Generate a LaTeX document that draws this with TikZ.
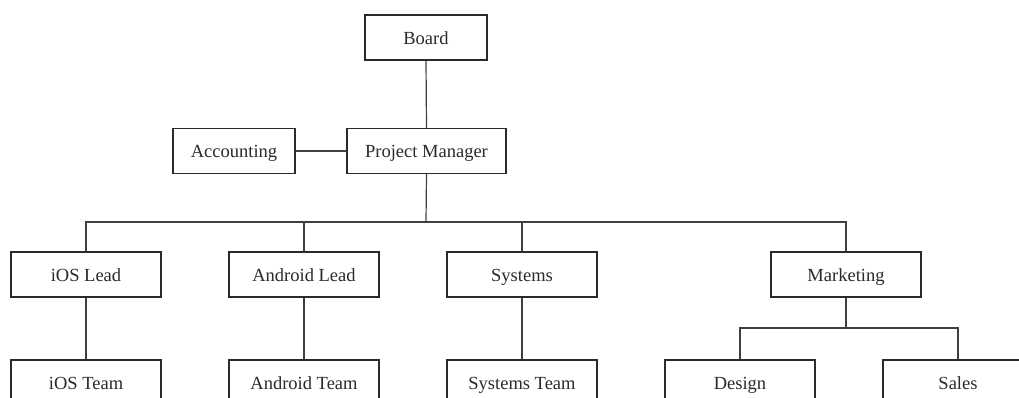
\documentclass[tikz,border=0pt]{standalone}
\usepackage{fontspec}
\setmainfont{Liberation Serif}
\definecolor{ink}{HTML}{2A2A2A}
\definecolor{wire}{HTML}{404040}
\begin{document}
\begin{tikzpicture}[x=1pt,y=-1pt,
  box/.style={draw=ink,line width=1.2pt,fill=white,inner sep=0pt,
    minimum height=45pt,text height=16pt,text depth=2pt,
    font=\fontsize{18.5}{20}\selectfont,text=ink},
  wbox/.style={box,minimum width=150pt},
  link/.style={draw=wire,line width=1.2pt}]
\useasboundingbox (0,0) rectangle (1019,398);
\clip (0,0) rectangle (1019,398);
% top of the chart
\node[box,minimum width=122pt] (board) at (426,37.5) {Board};
\node[box,minimum width=159pt] (pm) at (426.5,151) {Project Manager};
\node[box,minimum width=122pt] (acc) at (234,151) {Accounting};
% leads
\node[wbox] (iosL) at (86,274.5) {iOS Lead};
\node[wbox] (andL) at (304,274.5) {Android Lead};
\node[wbox] (sys) at (522,274.5) {Systems};
\node[wbox] (mkt) at (846,274.5) {Marketing};
% teams
\node[wbox] (iosT) at (86,382.5) {iOS Team};
\node[wbox] (andT) at (304,382.5) {Android Team};
\node[wbox] (sysT) at (522,382.5) {Systems Team};
\node[wbox] (des) at (740,382.5) {Design};
\node[wbox] (sal) at (958,382.5) {Sales};
% junction points
\coordinate (bus) at (426,222);
\coordinate (mbus) at (846,328);
% connectors
\draw[link] (board.south) -- (pm.north);
\draw[link] (acc.east) -- (pm.west);
\draw[link] (pm.south) -- (bus);
\draw[link] (bus) -| (iosL.north);
\draw[link] (bus) -| (andL.north);
\draw[link] (bus) -| (sys.north);
\draw[link] (bus) -| (mkt.north);
\draw[link] (iosL.south) -- (iosT.north);
\draw[link] (andL.south) -- (andT.north);
\draw[link] (sys.south) -- (sysT.north);
\draw[link] (mkt.south) -- (mbus);
\draw[link] (mbus) -| (des.north);
\draw[link] (mbus) -| (sal.north);
\end{tikzpicture}
\end{document}
